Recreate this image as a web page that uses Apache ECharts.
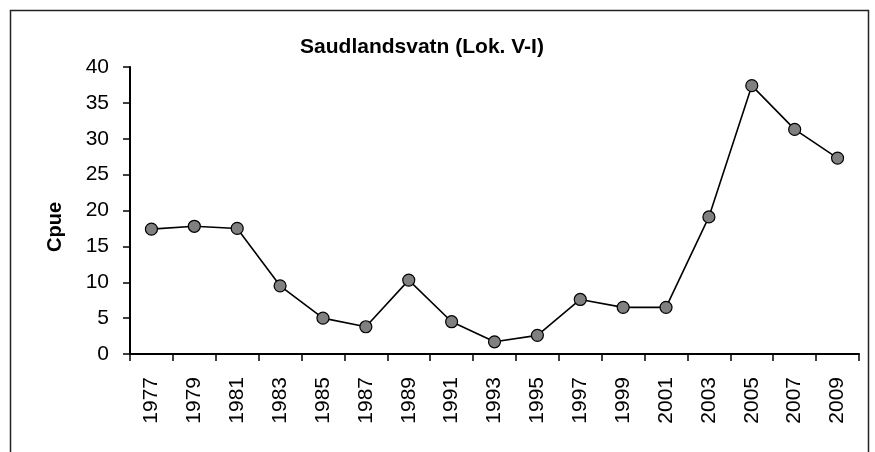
<!DOCTYPE html>
<html>
<head>
<meta charset="utf-8">
<script src="https://cdn.jsdelivr.net/npm/echarts@6/dist/echarts.min.js"></script>
<style>
  html, body { margin: 0; padding: 0; background: #fff; }
  #chart { width: 875px; height: 452px; }
</style>
</head>
<body>
<div id="chart"></div>
<script>
// Catch per unit effort, survey years at Saudlandsvatn, station V-I
const years = ['1977','1979','1981','1983','1985','1987','1989','1991','1993',
               '1995','1997','1999','2001','2003','2005','2007','2009'];
const cpue = [17.4, 17.8, 17.5, 9.5, 5.0, 3.8, 10.3, 4.5, 1.7,
              2.6, 7.6, 6.5, 6.5, 19.1, 37.4, 31.3, 27.3];
const yTicks = { min: 0, max: 40, interval: 5 };
const titleText = 'Saudlandsvatn (Lok. V-I)';
const yTitle = 'Cpue';

const font = 'Liberation Sans, Arial, sans-serif';
const chart = echarts.init(document.getElementById('chart'), null, { renderer: 'canvas' });

chart.setOption({
  animation: false,
  backgroundColor: '#ffffff',
  graphic: [
    {
      type: 'rect', left: 8, top: 8, z: -1,
      shape: { width: 858, height: 460 },
      style: { fill: 'none', stroke: '#222', lineWidth: 1.5 }
    },
    {
      type: 'text', x: 422, y: 47,
      style: {
        text: titleText, fontFamily: font, fontSize: 21, fontWeight: 'bold',
        fill: '#000', textAlign: 'center', textVerticalAlign: 'middle'
      }
    },
    {
      type: 'text', x: 55, y: 227, rotation: Math.PI / 2,
      style: {
        text: yTitle, fontFamily: font, fontSize: 20, fontWeight: 'bold',
        fill: '#000', textAlign: 'center', textVerticalAlign: 'middle'
      }
    }
  ],
  grid: { left: 130, right: 16, top: 67, bottom: 98 },
  xAxis: {
    type: 'category',
    data: years,
    boundaryGap: true,
    axisLine: { lineStyle: { color: '#000', width: 2 } },
    axisTick: { show: true, inside: false, length: 7, alignWithLabel: false, lineStyle: { color: '#000', width: 1.5 } },
    axisLabel: { rotate: 90, interval: 0, margin: 23, fontFamily: font, fontSize: 21, color: '#000' },
    splitLine: { show: false }
  },
  yAxis: {
    type: 'value',
    min: yTicks.min, max: yTicks.max, interval: yTicks.interval,
    axisLine: { show: true, lineStyle: { color: '#000', width: 2 } },
    axisTick: { show: true, inside: false, length: 7, lineStyle: { color: '#000', width: 1.5 } },
    axisLabel: { margin: 21, fontFamily: font, fontSize: 21, color: '#000' },
    splitLine: { show: false }
  },
  series: [{
    type: 'line',
    data: cpue,
    symbol: 'circle',
    symbolSize: 12,
    lineStyle: { color: '#000', width: 1.6 },
    itemStyle: { color: '#808080', borderColor: '#000', borderWidth: 1.2 }
  }]
});
</script>
</body>
</html>
